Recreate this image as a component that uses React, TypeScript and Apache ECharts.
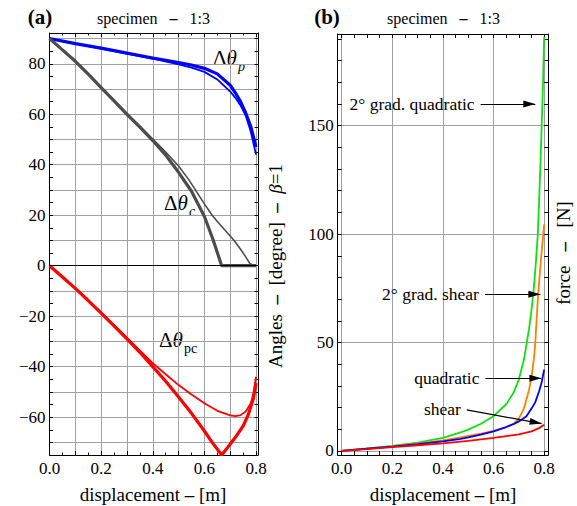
import React, { useEffect, useRef } from 'react';
import * as echarts from 'echarts';

const FONT = '"Liberation Serif", "Times New Roman", Times, serif';
const GRID_GRAY = '#a0a0a0';
const CLEAR = 'rgba(0,0,0,0)';

// ---------- Panel (a): angles [degree] vs displacement [m] ----------
const pX = [0, 0.1, 0.2, 0.3, 0.4, 0.5, 0.55, 0.6, 0.65, 0.7, 0.72, 0.74, 0.76, 0.78, 0.8];
const thetaPThick = [90, 88, 86.2, 84.2, 82.3, 80.5, 79.5, 78.2, 76, 71.5, 68.5, 65, 60.5, 55, 47];
const thetaPThin = [90, 88, 86, 84, 82, 79.8, 78.5, 76.8, 73.8, 69, 66.5, 63.5, 59.5, 53, 44];

const cThickX = [0, 0.05, 0.1, 0.15, 0.2, 0.25, 0.3, 0.35, 0.4, 0.45, 0.5, 0.55, 0.6, 0.633, 0.667, 0.7, 0.75, 0.8];
const thetaCThick = [90, 85.5, 81, 75.9, 70.6, 65.3, 60, 54.9, 49.6, 43.8, 37, 29.5, 19.5, 10.5, 0, 0, 0, 0];
const cThinX = [0, 0.05, 0.1, 0.15, 0.2, 0.25, 0.3, 0.35, 0.4, 0.45, 0.5, 0.54, 0.6, 0.63, 0.65, 0.7, 0.715, 0.74, 0.76, 0.775, 0.79, 0.8];
const thetaCThin = [90, 85.5, 81, 76, 70.8, 65.6, 60.4, 55.3, 50.2, 45, 39.5, 34, 24.5, 20, 17.5, 11.8, 10, 6.5, 3.5, 1, 0, 0];

const pcThickX = [0, 0.05, 0.1, 0.15, 0.2, 0.25, 0.3, 0.35, 0.4, 0.45, 0.5, 0.55, 0.6, 0.63, 0.667, 0.69, 0.72, 0.75, 0.77, 0.79, 0.8];
const thetaPCThick = [0, -4.5, -9, -13.8, -18.8, -23.8, -29, -34.3, -40, -45.8, -52, -58.5, -65.5, -70, -75, -72, -68, -63.5, -59, -52.5, -46.5];
const pcThinX = [0, 0.1, 0.2, 0.3, 0.4, 0.45, 0.5, 0.55, 0.6, 0.65, 0.7, 0.72, 0.74, 0.76, 0.78, 0.79, 0.8];
const thetaPCThin = [0, -9, -18.5, -28.5, -38.6, -43, -47.3, -51, -54.5, -57.5, -59.3, -59.6, -59.2, -57.8, -54.5, -50.5, -44];

// ---------- Panel (b): force [N] vs displacement [m] ----------
const gqX = [0, 0.1, 0.2, 0.3, 0.4, 0.47, 0.5, 0.55, 0.6, 0.65, 0.68, 0.7, 0.72, 0.73, 0.74, 0.75, 0.76, 0.768, 0.775, 0.78, 0.787, 0.795, 0.8];
const gradQuadratic = [0, 1.1, 2.3, 3.8, 6, 8.5, 9.8, 12.5, 16, 21.5, 27, 33, 42, 49, 56, 65, 76, 88, 100, 115, 138, 168, 191];
const gsX = [0, 0.1, 0.2, 0.3, 0.4, 0.47, 0.5, 0.55, 0.6, 0.65, 0.68, 0.7, 0.72, 0.74, 0.75, 0.76, 0.765, 0.775, 0.787, 0.795, 0.8];
const gradShear = [0, 1, 2.1, 3.3, 4.8, 6.2, 6.9, 8, 9.2, 11, 12.6, 15, 19.5, 28, 34, 43, 50, 70, 88, 98, 104.5];
const qX = [0, 0.1, 0.2, 0.3, 0.4, 0.47, 0.5, 0.55, 0.6, 0.65, 0.68, 0.7, 0.73, 0.75, 0.765, 0.78, 0.79, 0.8];
const quadratic = [0, 1, 2, 3.1, 4.4, 5.5, 6.2, 7.5, 9, 11, 12.4, 13.6, 16, 19.5, 22.5, 27.5, 31.5, 37.5];
const sX = [0, 0.1, 0.2, 0.3, 0.4, 0.5, 0.6, 0.65, 0.7, 0.75, 0.78, 0.8];
const shear = [0, 0.8, 1.7, 2.6, 3.5, 4.6, 6, 6.8, 7.6, 9, 10.5, 12];

// arrow annotations in panel (b): label, from [x, y], to [x, y]
const arrowLabels = ['2\u00b0 grad. quadratic', '2\u00b0 grad. shear', 'quadratic', 'shear'];
const arrowFrom = [[0.549, 160], [0.566, 72.3], [0.568, 33.5], [0.494, 18.9]];
const arrowTo = [[0.765, 160], [0.785, 72.3], [0.789, 33.5], [0.79, 12.6]];

// ticks for panel (b)
const bTicksX = [0, 0.05, 0.1, 0.15, 0.2, 0.25, 0.3, 0.35, 0.4, 0.45, 0.5, 0.55, 0.6, 0.65, 0.7, 0.75, 0.8];
const bLabelsX = [0, 0.2, 0.4, 0.6, 0.8];
const bTicksY = [0, 10, 20, 30, 40, 50, 60, 70, 80, 90, 100, 110, 120, 130, 140, 150, 160, 170, 180, 190];
const bLabelsY = [0, 50, 100, 150];

const zip = (xs: number[], ys: number[]) => xs.map((x, i) => [x, ys[i]]);
const minusFmt = (v: number) => (v < 0 ? '\u2212' + Math.abs(v) : String(v));

const SP = '\u2002 '; // wide spacing around dashes, as in the original typesetting
const EN = '\u2002';
const DASH = '{d|\u2013}';

export default function App() {
  const ref = useRef<HTMLDivElement>(null);

  useEffect(() => {
    if (!ref.current) return;
    const chart = echarts.init(ref.current, undefined, { renderer: 'svg' });

    const gridA = { left: 49.5, top: 33, width: 208.6, height: 422 };
    const gridB = { left: 337.7, top: 34, width: 210.5, height: 421 };
    const xA = { gridIndex: 0, type: 'value', min: 0, max: 0.808, interval: 0.1 };
    const yA = { gridIndex: 0, type: 'value', min: -75, max: 92.2, interval: 5 };
    const xB = { gridIndex: 1, type: 'value', min: -0.016, max: 0.816 };
    const yB = { gridIndex: 1, type: 'value', min: -1.9, max: 192.3 };
    const pxPerX = gridB.width / (xB.max - xB.min);
    const pxPerY = gridB.height / (yB.max - yB.min);

    const axisLine = { show: true, onZero: false, lineStyle: { color: '#000', width: 1 } };
    const tick = (len: number, extra: any = {}) => ({
      show: true, inside: true, length: len, lineStyle: { color: '#000', width: 1 }, ...extra,
    });
    const labelBase = { color: '#000', fontFamily: FONT, fontSize: 17 };
    const noLabel = { show: false };
    const noSplit = { show: false };

    const lineSeries = (name: string, xi: number, data: number[][], color: string, width: number, extra: any = {}) => ({
      name, type: 'line', xAxisIndex: xi, yAxisIndex: xi, data, showSymbol: false, symbol: 'none',
      smooth: false, silent: true, lineStyle: { color, width }, z: 3, ...extra,
    });

    const arrowMarks = (k: number) => {
      const dx = (arrowTo[k][0] - arrowFrom[k][0]) * pxPerX;
      const dy = -(arrowTo[k][1] - arrowFrom[k][1]) * pxPerY;
      const a = Math.atan2(dy, dx);
      const headLen = 12;
      return {
        markLine: {
          silent: true, symbol: 'none',
          lineStyle: { color: '#000', width: 1.2, type: 'solid' },
          label: {
            show: true, position: 'start', distance: 6, formatter: arrowLabels[k],
            color: '#000', fontFamily: FONT, fontSize: 17.5,
          },
          data: [[{ coord: arrowFrom[k] }, { coord: arrowTo[k] }]],
        },
        markPoint: {
          silent: true, symbol: 'triangle', symbolSize: [7, headLen],
          symbolRotate: -90 - (a * 180) / Math.PI,
          symbolOffset: [-(headLen / 2) * Math.cos(a), -(headLen / 2) * Math.sin(a)],
          itemStyle: { color: '#000' }, label: { show: false },
          data: [{ coord: arrowTo[k] }],
        },
      };
    };

    const subText = (x: number, y: number, t: string, italic: boolean) => ({
      type: 'text', x, y, silent: true,
      style: {
        text: t, fill: '#000', fontFamily: FONT, fontSize: 14,
        fontStyle: italic ? 'italic' : 'normal', align: 'left', verticalAlign: 'middle',
      },
    });
    const deltaTheta = (x: number, y: number) => ({
      type: 'text', x, y, silent: true,
      style: {
        text: '{n|\u0394}{i|\u03b8}', fill: '#000', align: 'left', verticalAlign: 'middle',
        fontFamily: FONT, fontSize: 21,
        rich: {
          n: { fontFamily: FONT, fontSize: 21, fill: '#000' },
          i: { fontFamily: FONT, fontSize: 21, fontStyle: 'italic', fill: '#000' },
        },
      },
    });
    const richLabel = (x: number, y: number, t: string, size: number, rotation = 0) => ({
      type: 'text', x, y, rotation, silent: true,
      style: {
        text: t, fill: '#000', fontFamily: FONT, fontSize: size, align: 'center', verticalAlign: 'middle',
        rich: {
          d: { fontFamily: FONT, fontSize: size, fontWeight: 'bold', fill: '#000' },
          i: { fontFamily: FONT, fontSize: size, fontStyle: 'italic', fill: '#000' },
        },
      },
    });
    const plainText = (x: number, y: number, t: string, size: number, extra: any = {}) => ({
      type: 'text', x, y, silent: true,
      style: {
        text: t, fill: '#000', fontFamily: FONT, fontSize: size, align: 'center', verticalAlign: 'middle', ...extra,
      },
    });

    chart.setOption({
      animation: false,
      backgroundColor: '#fff',
      grid: [
        { ...gridA, containLabel: false, outerBoundsMode: 'none' },
        { ...gridB, containLabel: false, outerBoundsMode: 'none' },
      ],
      xAxis: [
        {
          ...xA, position: 'bottom', axisLine, axisTick: tick(4),
          minorTick: { show: true, splitNumber: 2, length: 2.5, lineStyle: { color: '#000' } },
          axisLabel: {
            ...labelBase, margin: 5, showMaxLabel: false,
            formatter: (v: number) => {
              const k = Math.round(v * 10);
              return Math.abs(v * 10 - k) < 1e-6 && k % 2 === 0 && v <= 0.8001 ? v.toFixed(1) : '';
            },
          },
          splitLine: { show: true, lineStyle: { color: GRID_GRAY, width: 1 } },
        },
        {
          ...xA, position: 'top', axisLine, axisTick: tick(4),
          minorTick: { show: true, splitNumber: 2, length: 2.5, lineStyle: { color: '#000' } },
          axisLabel: noLabel, splitLine: noSplit,
        },
        {
          ...xB, position: 'bottom', axisLine, axisTick: tick(4, { customValues: bTicksX }),
          axisLabel: { ...labelBase, margin: 5, customValues: bLabelsX, formatter: (v: number) => v.toFixed(1) },
          splitLine: { show: true, lineStyle: { color: [GRID_GRAY, CLEAR, CLEAR, CLEAR], width: 1 } },
        },
        {
          ...xB, position: 'top', axisLine, axisTick: tick(4, { customValues: bTicksX }),
          axisLabel: noLabel, splitLine: noSplit,
        },
      ],
      yAxis: [
        {
          ...yA, position: 'left', axisLine, axisTick: tick(3.5),
          axisLabel: {
            ...labelBase, margin: 4, showMaxLabel: false,
            formatter: (v: number) => (Math.abs(v % 20) < 1e-6 ? minusFmt(v) : ''),
          },
          splitLine: { show: true, lineStyle: { color: [CLEAR, GRID_GRAY], width: 1 } },
        },
        { ...yA, position: 'right', axisLine, axisTick: tick(3.5), axisLabel: noLabel, splitLine: noSplit },
        {
          ...yB, position: 'left', axisLine, axisTick: tick(4, { customValues: bTicksY }),
          axisLabel: { ...labelBase, margin: 4, customValues: bLabelsY },
          splitLine: { show: true, lineStyle: { color: [GRID_GRAY, CLEAR, CLEAR, CLEAR, CLEAR], width: 1 } },
        },
        {
          ...yB, position: 'right', axisLine, axisTick: tick(4, { customValues: bTicksY }),
          axisLabel: noLabel, splitLine: noSplit,
        },
      ],
      series: [
        lineSeries('dthetap thin', 0, zip(pX, thetaPThin), '#0000ff', 1.8),
        lineSeries('dthetap', 0, zip(pX, thetaPThick), '#0000ff', 3.2),
        lineSeries('dthetac thin', 0, zip(cThinX, thetaCThin), '#4d4d4d', 1.6),
        lineSeries('dthetac', 0, zip(cThickX, thetaCThick), '#4d4d4d', 3.2),
        lineSeries('dthetapc thin', 0, zip(pcThinX, thetaPCThin), '#ff0000', 1.8),
        lineSeries('dthetapc', 0, zip(pcThickX, thetaPCThick), '#ff0000', 3.2, {
          markLine: {
            silent: true, symbol: 'none', label: { show: false },
            lineStyle: { color: '#000', width: 1.2, type: 'solid' },
            data: [{ yAxis: 0 }],
          },
        }),
        lineSeries('2\u00b0 grad. quadratic', 2, zip(gqX, gradQuadratic), '#11e011', 1.8, arrowMarks(0)),
        lineSeries('2\u00b0 grad. shear', 2, zip(gsX, gradShear), '#ff8000', 1.8, arrowMarks(1)),
        lineSeries('quadratic', 2, zip(qX, quadratic), '#0000ff', 1.8, arrowMarks(2)),
        lineSeries('shear', 2, zip(sX, shear), '#ff0000', 1.8, arrowMarks(3)),
      ],
      graphic: [
        plainText(40, 17, '(a)', 21, { fontWeight: 'bold' }),
        richLabel(153.5, 18, 'specimen' + SP + DASH + SP + '1:3', 16),
        plainText(327, 17, '(b)', 21, { fontWeight: 'bold' }),
        richLabel(443.5, 18, 'specimen' + SP + DASH + SP + '1:3', 16),
        richLabel(153, 494, 'displacement ' + DASH + ' [m]', 19),
        richLabel(443, 494, 'displacement ' + DASH + ' [m]', 19),
        richLabel(275, 266, 'Angles' + EN + DASH + EN + '[degree]' + EN + DASH + EN + '{i|\u03b2}=1', 19, Math.PI / 2),
        richLabel(563, 253, 'force' + SP + DASH + SP + '[N]', 19, Math.PI / 2),
        deltaTheta(213, 58),
        subText(238, 66, 'p', true),
        deltaTheta(164, 203),
        subText(189, 211, 'c', true),
        deltaTheta(159, 340),
        subText(184, 348, 'pc', false),
      ],
    });

    return () => chart.dispose();
  }, []);

  return (
    <div
      ref={ref}
      style={{ position: 'fixed', left: 0, top: 0, width: 577, height: 506, background: '#fff' }}
    />
  );
}
